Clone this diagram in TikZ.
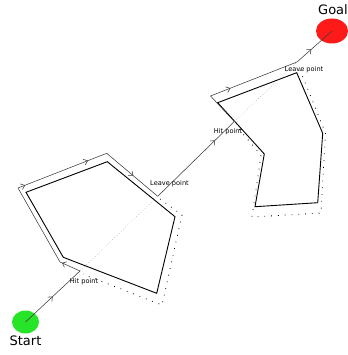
\documentclass[tikz,border=0pt]{standalone}
\usepackage{fontspec}
\setmainfont{DejaVu Sans}
\usetikzlibrary{shapes.geometric,arrows.meta,decorations.markings}

\definecolor{startgreen}{RGB}{40,228,40}
\definecolor{goalred}{RGB}{255,26,26}
\definecolor{pathgray}{RGB}{60,60,60}

\tikzset{
  obstacle/.style={draw=black, line width=0.9pt, line join=miter},
  route/.style={draw=pathgray, line width=0.55pt},
  mline/.style={draw=black!35, line width=0.5pt, dash pattern=on 0.6pt off 2.4pt},
  around/.style={draw=black, line width=0.8pt, dash pattern=on 0.8pt off 6pt},
  tip/.style={-{Straight Barb[length=3.6pt,width=6pt,line width=0.55pt]}},
  arrowat/.style={postaction={decorate},
    decoration={markings, mark=at position #1 with {\arrow[pathgray]{Straight Barb[length=3.6pt,width=6pt,line width=0.55pt]}}}},
  twoarrows/.style 2 args={postaction={decorate},
    decoration={markings,
      mark=at position #1 with {\arrow[pathgray]{Straight Barb[length=3.6pt,width=6pt,line width=0.55pt]}},
      mark=at position #2 with {\arrow[pathgray]{Straight Barb[length=3.6pt,width=6pt,line width=0.55pt]}}}},
  endpoint/.style={ellipse, inner sep=0pt},
  big/.style={font=\fontsize{13}{15}\selectfont},
  small/.style={font=\fontsize{6.6}{8}\selectfont, inner sep=0pt}
}

\begin{document}
\begin{tikzpicture}[x=1pt,y=-1pt]
\useasboundingbox (0,0) rectangle (347,355);

% start and goal
\node[endpoint, fill=startgreen, minimum width=27pt, minimum height=23pt] (start) at (25.5,322) {};
\node[endpoint, fill=goalred, minimum width=32pt, minimum height=25pt] (goal) at (332,31) {};
\node[big] (startlbl) at (25.5,341) {Start};
\node[big] (goallbl) at (333,9.5) {Goal};

% first obstacle
\coordinate (p1) at (26,192.3);
\coordinate (p2) at (107.3,161.7);
\coordinate (p3) at (175,216.7);
\coordinate (p4) at (156.7,293.3);
\coordinate (p5) at (63.3,257.3);
\draw[obstacle] (p1) -- (p2) -- (p3) -- (p4) -- (p5) -- cycle;

% second obstacle
\coordinate (q1) at (217.7,102.7);
\coordinate (q2) at (296.7,72.7);
\coordinate (q3) at (322.7,133.3);
\coordinate (q4) at (317.7,202.7);
\coordinate (q5) at (255,206.7);
\coordinate (q6) at (264.3,154);
\draw[obstacle] (q1) -- (q2) -- (q3) -- (q4) -- (q5) -- (q6) -- cycle;

% hit and leave points on the line from start to goal
\coordinate (h1) at (80,271);
\coordinate (l1) at (157.7,196.3);
\coordinate (h2) at (234.3,121.5);
\coordinate (l2) at (297,62);

% route around the first obstacle
\coordinate (a1) at (60,262);
\coordinate (a2) at (18,188);
\coordinate (a3) at (106.7,153.3);

% route around the second obstacle
\coordinate (b1) at (210.5,96);

% the straight line hidden behind the obstacles
\draw[mline] (h1) -- (l1);
\draw[mline] (h2) -- (l2);

% the far side of each obstacle
\coordinate (c1) at (160,199);
\coordinate (c2) at (182,215);
\coordinate (c3) at (162,305);
\coordinate (c4) at (83,274);
\draw[around] (c1) -- (c2) -- (c3) -- (c4);

\coordinate (d1) at (300,70);
\coordinate (d2) at (325.5,133);
\coordinate (d3) at (321,213);
\coordinate (d4) at (252,217);
\coordinate (d5) at (261,155);
\coordinate (d6) at (238,128);
\draw[around] (d1) -- (d2) -- (d3) -- (d4) -- (d5) -- (d6);

% the route taken
\draw[route, arrowat=0.5] (start.center) -- (h1);
\draw[route, arrowat=0.9] (h1) -- (a1);
\draw[route] (a1) -- (a2);
\draw[route, twoarrows={0.08}{0.79}] (a2) -- (a3);
\draw[route, arrowat=0.52] (a3) -- (l1);
\draw[route, arrowat=0.75] (l1) -- (h2);
\draw[route] (h2) -- (b1);
\draw[route, arrowat=0.23] (b1) -- (l2);
\draw[route, arrowat=0.41] (l2) -- (goal.center);

% labels
\node[small] (hit1) at (84,282) {Hit point};
\node[small] (leave1) at (169.5,184) {Leave point};
\node[small] (hit2) at (228,132) {Hit point};
\node[small] (leave2) at (304,70) {Leave point};
\end{tikzpicture}
\end{document}
